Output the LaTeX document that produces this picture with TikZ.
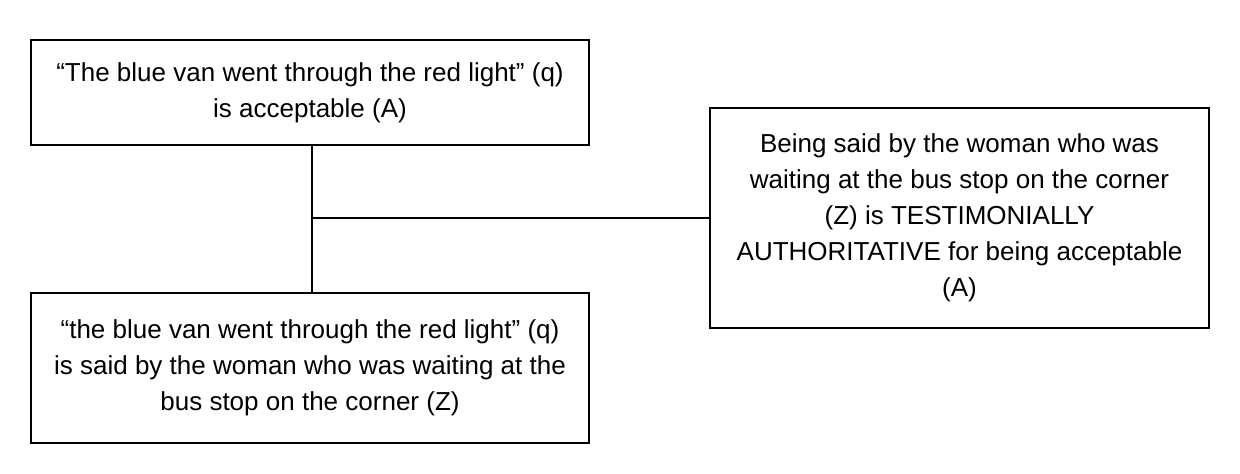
\documentclass[tikz,border=0pt]{standalone}
\usepackage{fontspec}
\setmainfont{Liberation Sans}
\tikzset{claim/.style={draw,thick,align=center,font=\fontsize{14.8}{20.5}\selectfont}}
\begin{document}
\begin{tikzpicture}
      \useasboundingbox (0,0) rectangle (24.8,-9.46);
      \node [claim,minimum width=11.16cm,minimum height=2.1cm] (1) at (6.2,-1.85) {``The blue van went through the red light'' (q)\\is acceptable (A)};
      \node [claim,minimum width=11.16cm,minimum height=3.0cm] (2) at (6.2,-7.36) {``the blue van went through the red light'' (q)\\is said by the woman who was waiting at the\\bus stop on the corner (Z)};
      \node [claim,minimum width=9.98cm,minimum height=4.4cm] (3) at (19.19,-4.36) {Being said by the woman who was\\waiting at the bus stop on the corner\\(Z) is TESTIMONIALLY\\AUTHORITATIVE for being acceptable\\(A)};
      \coordinate (j) at (6.24,-4.36);

      \draw[thick] (1.south -| j) -- (2.north -| j);
      \draw[thick] (j) -- (3.west);
    \end{tikzpicture}
\end{document}
